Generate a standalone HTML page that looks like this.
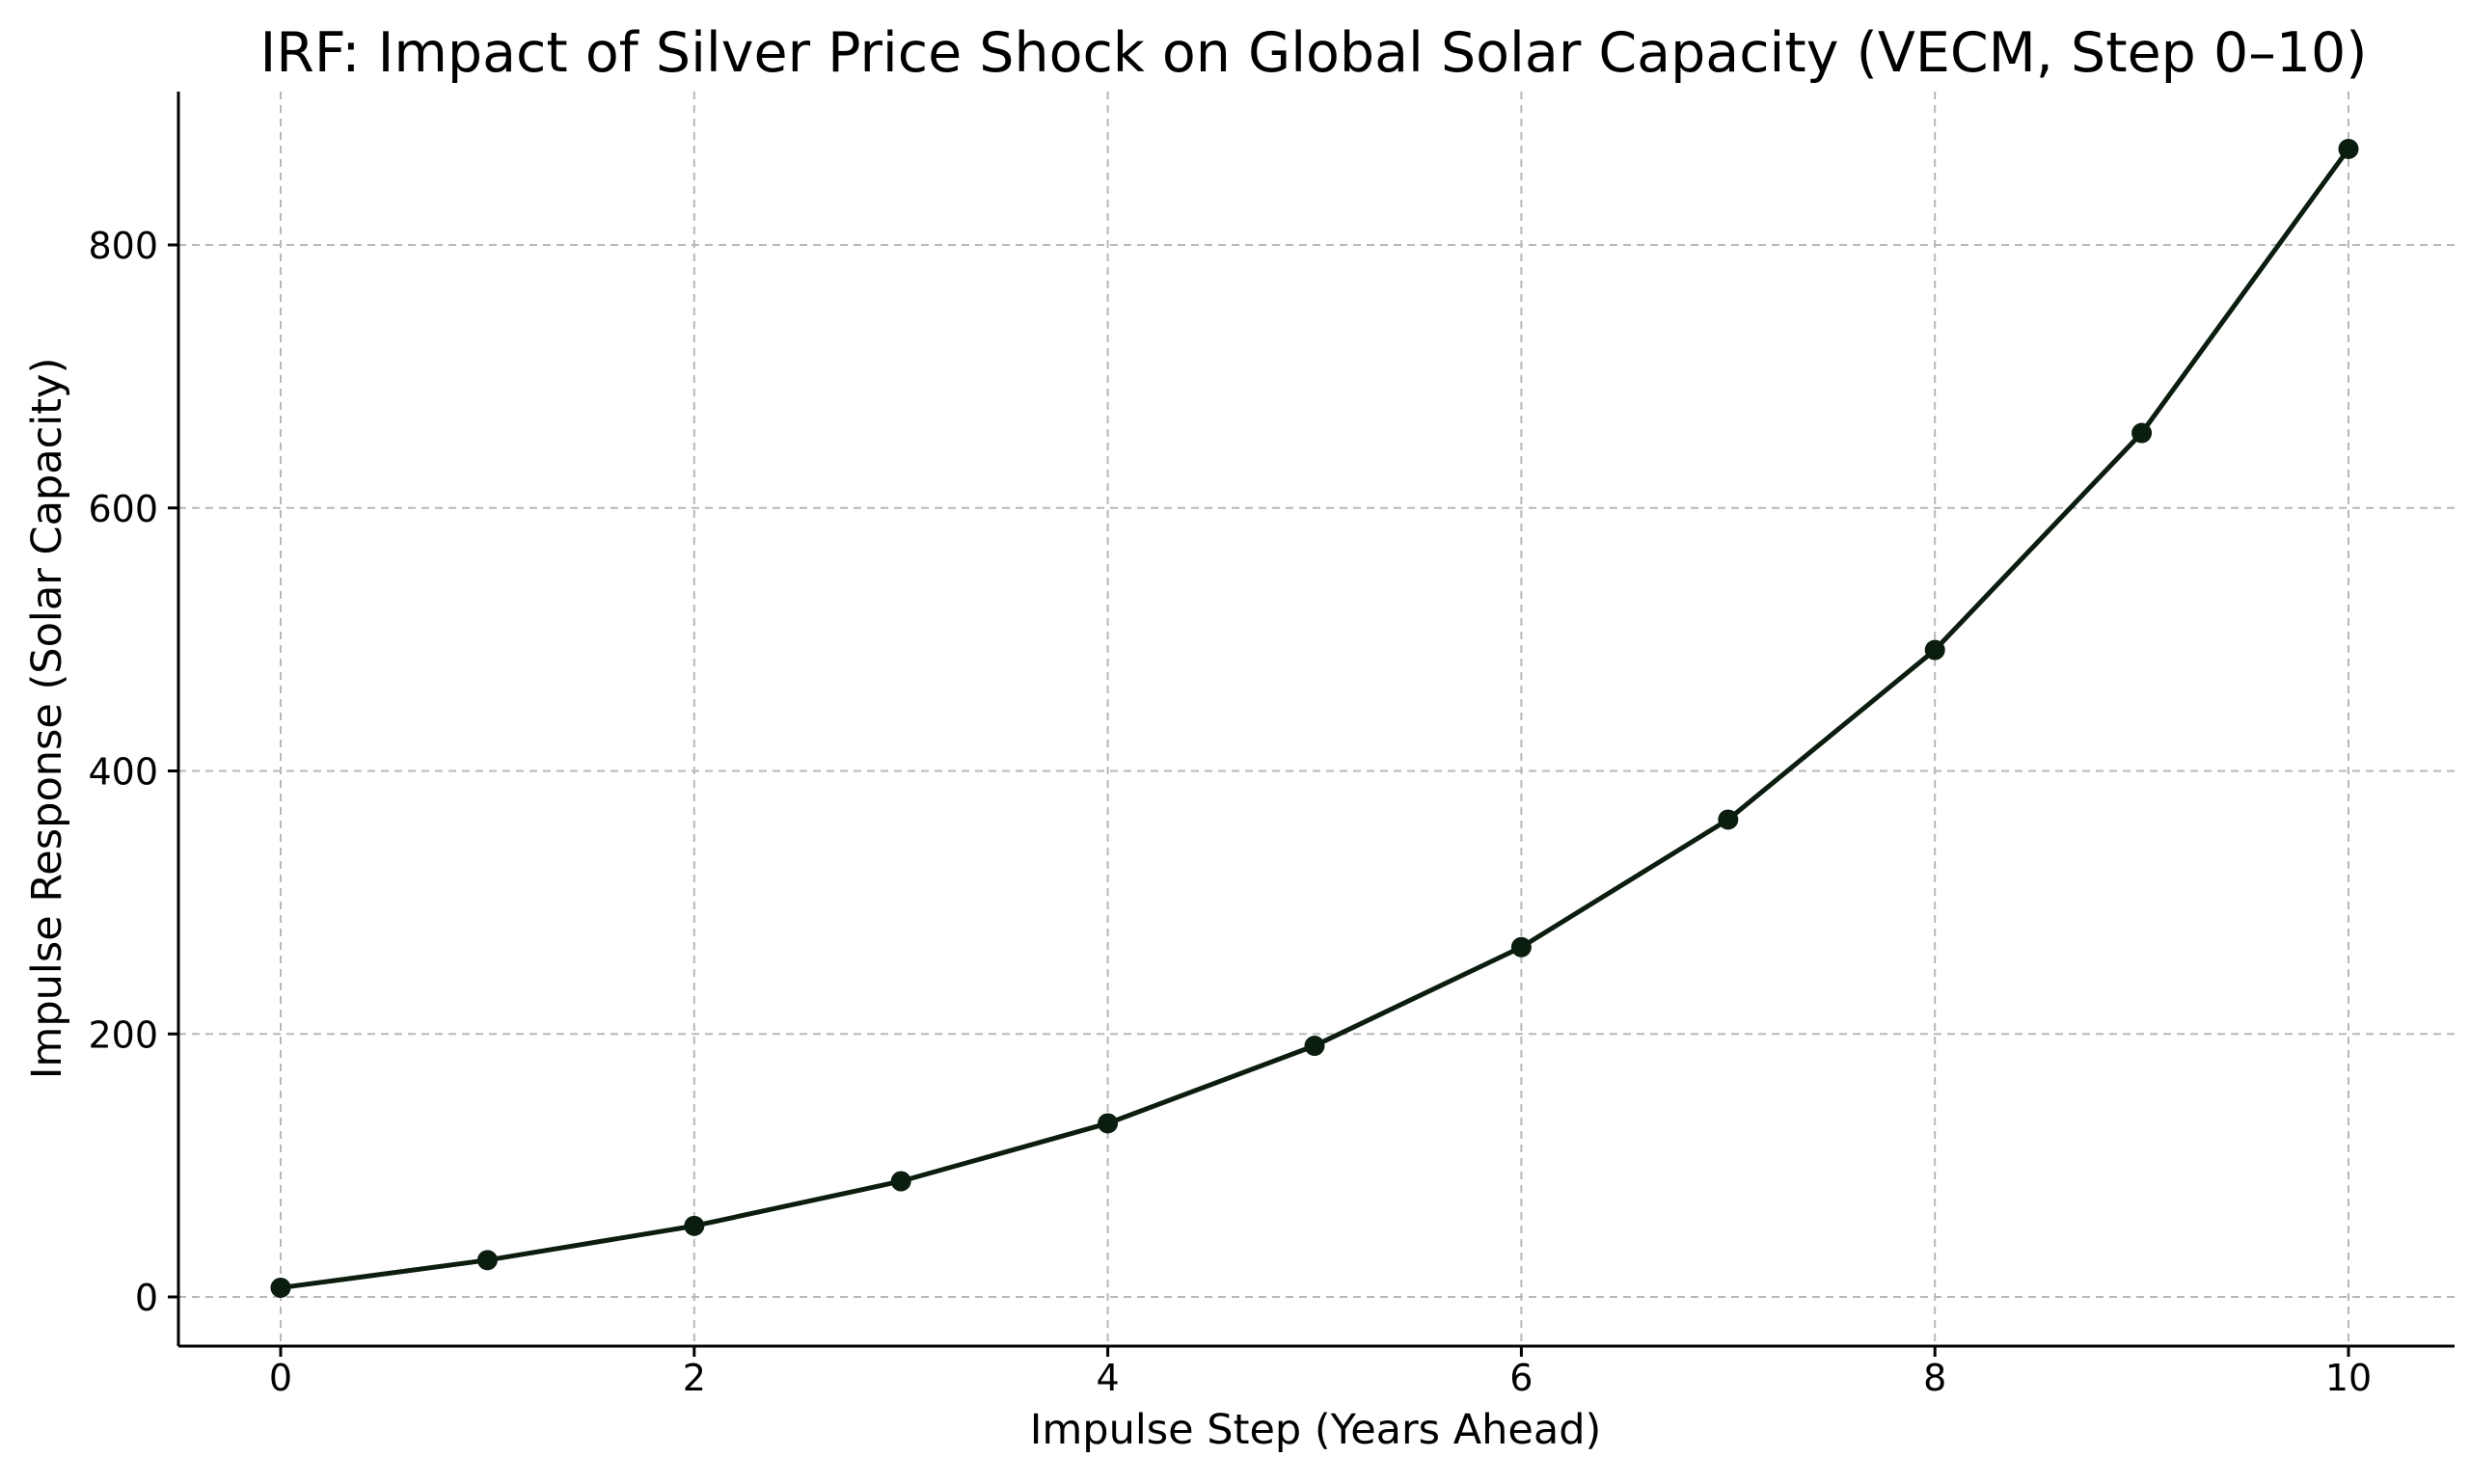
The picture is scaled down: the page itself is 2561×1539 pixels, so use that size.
<!DOCTYPE html>
<html><head><meta charset="utf-8"><style>
html,body{margin:0;padding:0;background:#fff;}
svg{display:block;font-family:"DejaVu Sans","Liberation Sans",sans-serif;}
</style></head><body>
<svg id="chart" width="2561" height="1539" viewBox="0 0 2561 1539">
<rect width="2561" height="1539" fill="#fff"/>
<text x="1362" y="74" font-size="57" text-anchor="middle" fill="#000">IRF: Impact of Silver Price Shock on Global Solar Capacity (VECM, Step 0–10)</text>
<g id="grid"></g>
<g id="ticks"></g>
<line x1="185" y1="95" x2="185" y2="1396" stroke="#000" stroke-width="3"/>
<line x1="185" y1="1396" x2="2545" y2="1396" stroke="#000" stroke-width="3"/>
<g id="series"></g>
<text x="1364" y="1497" font-size="43" text-anchor="middle" fill="#000">Impulse Step (Years Ahead)</text>
<text transform="translate(63,745) rotate(-90)" font-size="43" text-anchor="middle" fill="#000">Impulse Response (Solar Capacity)</text>
</svg>
<script>
const steps = [0,1,2,3,4,5,6,7,8,9,10];
const responses = [7,28,54,88,132,191,266,363,492,657,873];
const xTicks = [0,2,4,6,8,10];
const yTicks = [0,200,400,600,800];
const NS='http://www.w3.org/2000/svg';
const xs = v => 291 + (v-0)*(2435-291)/10;
const ys = v => 1345 - v*(1345-254)/800;
function mk(tag, attrs, parent){const e=document.createElementNS(NS,tag);for(const k in attrs)e.setAttribute(k,attrs[k]);parent.appendChild(e);return e;}
const grid=document.getElementById('grid'), ticks=document.getElementById('ticks'), series=document.getElementById('series');
xTicks.forEach(t=>{
  const g=mk('line',{x1:xs(t),x2:xs(t),y1:95,y2:1396,stroke:'#b8b8b8','stroke-width':2,'stroke-dasharray':'8,6'},grid);
  
  
  const tk=mk('line',{x1:xs(t),x2:xs(t),y1:1396,y2:1407,stroke:'#000','stroke-width':3},ticks);
  
  
  const lb=mk('text',{x:xs(t),y:1442,'font-size':38,'text-anchor':'middle',fill:'#000'},ticks);
  lb.textContent=t;
  
  
});
yTicks.forEach(t=>{
  const g=mk('line',{x1:185,x2:2545,y1:ys(t),y2:ys(t),stroke:'#b8b8b8','stroke-width':2,'stroke-dasharray':'8,6'},grid);
  
  
  const tk=mk('line',{x1:174,x2:185,y1:ys(t),y2:ys(t),stroke:'#000','stroke-width':3},ticks);
  
  
  const lb=mk('text',{x:164,y:ys(t)+14,'font-size':38,'text-anchor':'end',fill:'#000'},ticks);
  lb.textContent=t;
  
  
});
const pts=steps.map((s,i)=>xs(s)+','+ys(responses[i])).join(' ');
const pl=mk('polyline',{points:pts,fill:'none',stroke:'#0b1d0e','stroke-width':5,'stroke-linejoin':'round'},series);


steps.forEach((s,i)=>{
  const c=mk('circle',{cx:xs(s),cy:ys(responses[i]),r:10.5,fill:'#0b1d0e'},series);
  
  
});
</script>
</body></html>
